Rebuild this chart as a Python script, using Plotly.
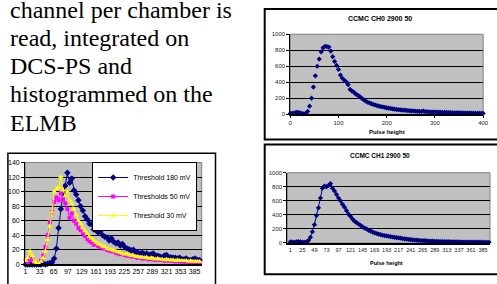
import plotly.graph_objects as go

W, H = 497, 284

# ---------------- data ----------------
text_lines = ["channel per chamber is", "read, integrated on", "DCS-PS and",
              "histogrammed on the", "ELMB"]

# left chart: threshold scan (bins 1,6,11,...,396)
thr180 = [0, 0, 0, 0, 0, 0, 0, 0, 1, 0, 1, 2, 3, 8, 22, 50, 76, 98, 108, 126,
          112, 118, 102, 96, 88, 80, 74, 66, 62, 56, 55, 48, 47, 44, 46, 40, 38, 37, 33, 36,
          31, 29, 30, 26, 28, 24, 22, 21, 19, 20, 17, 16, 15, 16, 14, 15, 13, 14, 15, 12,
          12, 11, 10, 12, 13, 10, 10, 9, 9, 8, 9, 7, 7, 8, 6, 6, 7, 8, 6, 6]
thr50 = [6, 3, 9, 6, 2, 1, 2, 5, 12, 24, 40, 58, 72, 86, 92, 88, 98, 90, 84, 76,
         64, 70, 60, 56, 50, 47, 43, 39, 35, 32, 30, 27, 28, 25, 24, 22, 22, 20, 19, 18,
         18, 16, 15, 14, 15, 13, 12, 12, 11, 11, 10, 9, 10, 8, 9, 8, 7, 8, 7, 6,
         7, 6, 6, 5, 6, 5, 5, 5, 4, 5, 4, 4, 4, 3, 4, 3, 3, 4, 3, 3]
thr30 = [5, 9, 18, 12, 4, 2, 1, 4, 9, 18, 34, 52, 72, 100, 104, 106, 120, 102, 94, 100,
         88, 84, 76, 68, 60, 56, 50, 46, 42, 38, 36, 33, 30, 28, 27, 25, 24, 22, 21, 20,
         19, 18, 17, 16, 15, 14, 15, 13, 12, 12, 11, 11, 10, 10, 9, 10, 8, 9, 8, 7,
         8, 7, 7, 6, 7, 6, 6, 6, 5, 6, 5, 5, 5, 5, 4, 5, 4, 4, 4, 4]
left_bins = [1 + 5 * i for i in range(len(thr180))]
left_ticks = [1, 33, 65, 97, 129, 161, 193, 225, 257, 289, 321, 353, 385]
series_names = ["Threshold 180 mV", "Thresholds 50 mV", "Threshold 30 mV"]

# CH0 (pulse height 0,4,...,400)
ch0 = [10, 12, 15, 22, 24, 18, 10, 5, 12, 35,
       100, 200, 340, 480, 600, 690, 780, 830, 850, 845,
       840, 790, 720, 660, 610, 560, 490, 450, 425, 405,
       370, 310, 290, 275, 250, 238, 220, 200, 182, 165,
       150, 142, 132, 122, 115, 108, 100, 96, 90, 86,
       80, 75, 72, 68, 63, 60, 58, 55, 52, 50,
       48, 45, 43, 42, 40, 38, 36, 35, 34, 40,
       33, 31, 30, 28, 28, 27, 25, 25, 24, 23,
       22, 22, 21, 20, 19, 18, 18, 17, 16, 16,
       15, 15, 14, 14, 13, 13, 12, 12, 12, 11, 10]
ch0_x = [4 * i for i in range(len(ch0))]

# CH1 (bins 1,5,...,397)
ch1 = [15, 12, 10, 15, 20, 15, 12, 10, 15, 35,
       80, 160, 260, 390, 500, 640, 780, 810, 800, 820,
       845, 780, 740, 690, 640, 600, 550, 510, 460, 410,
       380, 340, 310, 290, 270, 250, 230, 210, 200, 180,
       170, 155, 145, 135, 125, 118, 110, 105, 100, 95,
       90, 85, 80, 75, 72, 68, 62, 58, 55, 52,
       48, 45, 42, 40, 38, 35, 33, 32, 30, 28,
       26, 25, 24, 22, 22, 20, 20, 19, 18, 18,
       17, 16, 16, 15, 15, 14, 14, 13, 13, 13,
       12, 12, 12, 11, 11, 11, 10, 10, 10, 10]
ch1_x = [1 + 4 * i for i in range(len(ch1))]
ch1_ticks = [1, 25, 49, 73, 97, 121, 145, 169, 193, 217, 241, 265, 289, 313, 337, 361, 385]

titles = ["CCMC CH0 2900 50", "CCMC CH1 2900 50"]
xlabel = "Pulse height"

# ---------------- helpers ----------------
def px(x):
    return x / W


def py(y):
    return 1 - y / H


SANS = "Liberation Sans"
SERIF = "Liberation Serif"
NAVY = "#000080"

fig = go.Figure()

fig.add_trace(go.Scatter(x=left_bins, y=thr180, name=series_names[0], mode="lines+markers",
                         line=dict(color=NAVY, width=1),
                         marker=dict(symbol="diamond", size=5, color=NAVY),
                         xaxis="x", yaxis="y", cliponaxis=False))
fig.add_trace(go.Scatter(x=left_bins, y=thr50, name=series_names[1], mode="lines+markers",
                         line=dict(color="#FF00FF", width=1),
                         marker=dict(symbol="square", size=4, color="#FF00FF"),
                         xaxis="x", yaxis="y", cliponaxis=False))
fig.add_trace(go.Scatter(x=left_bins, y=thr30, name=series_names[2], mode="lines+markers",
                         line=dict(color="#FFFF00", width=1),
                         marker=dict(symbol="triangle-up", size=5, color="#FFFF00"),
                         xaxis="x", yaxis="y", cliponaxis=False))

fig.add_trace(go.Scatter(x=ch0_x, y=ch0, mode="markers", showlegend=False,
                         marker=dict(symbol="diamond", size=4, color=NAVY),
                         xaxis="x2", yaxis="y2", cliponaxis=False))
fig.add_trace(go.Scatter(x=ch1_x, y=ch1, mode="lines+markers", showlegend=False,
                         line=dict(color=NAVY, width=1),
                         marker=dict(symbol="diamond", size=4, color=NAVY),
                         xaxis="x3", yaxis="y3", cliponaxis=False))

yaxis_common = dict(showgrid=True, gridcolor="black", gridwidth=1, zeroline=False,
                    showline=True, linecolor="black", linewidth=1,
                    ticks="outside", ticklen=3, tickcolor="black")

fig.update_layout(
    width=W, height=H, autosize=False,
    margin=dict(l=0, r=0, t=0, b=0),
    paper_bgcolor="white", plot_bgcolor="#C0C0C0",
    showlegend=True,
    legend=dict(x=px(145), y=py(162), xanchor="center", yanchor="top",
                bgcolor="white", bordercolor="black", borderwidth=1,
                font=dict(family=SANS, size=7, color="black"),
                itemwidth=30, tracegroupgap=0),
    xaxis=dict(domain=[px(23.5), px(203)], range=[0, 401], anchor="y",
               tickmode="array", tickvals=left_ticks, ticks="",
               showline=True, linecolor="black", linewidth=1.5,
               showgrid=False, zeroline=False,
               tickfont=dict(family=SANS, size=7, color="black")),
    yaxis=dict(domain=[py(267), py(162.5)], range=[0, 140], dtick=20, anchor="x",
               tickfont=dict(family=SANS, size=7, color="black"), **yaxis_common),
    xaxis2=dict(domain=[px(293), px(489)], range=[0, 400], anchor="y2",
                tickmode="array", tickvals=[0, 100, 200, 300, 400], ticks="outside",
                ticklen=2, tickcolor="black",
                showline=True, linecolor="black", linewidth=2,
                showgrid=False, zeroline=False,
                tickfont=dict(family=SANS, size=6, color="#222")),
    yaxis2=dict(domain=[py(113), py(31)], range=[0, 1000], dtick=200, anchor="x2",
                tickfont=dict(family=SANS, size=6, color="#222"), **yaxis_common),
    xaxis3=dict(domain=[px(290), px(496)], range=[-5, 399], anchor="y3",
                tickmode="array", tickvals=ch1_ticks, ticks="",
                showline=True, linecolor="black", linewidth=2,
                showgrid=False, zeroline=False,
                tickfont=dict(family=SANS, size=5.5, color="#222")),
    yaxis3=dict(domain=[py(245), py(173)], range=[0, 1000], dtick=200, anchor="x3",
                tickfont=dict(family=SANS, size=6, color="#222"), **yaxis_common),
)

annotations = []
baselines = [14, 42.5, 71.5, 100.5, 129.5]
for t, b in zip(text_lines, baselines):
    annotations.append(dict(text=t, x=px(6), y=py(b - 8), xref="paper", yref="paper",
                            xanchor="left", yanchor="middle", showarrow=False,
                            font=dict(family=SERIF, size=24, color="black")))
annotations.append(dict(text="<b>" + titles[0] + "</b>", x=px(384), y=py(15), xref="paper",
                        yref="paper", showarrow=False, xanchor="center", yanchor="middle",
                        font=dict(family=SANS, size=7, color="black")))
annotations.append(dict(text="<b>" + titles[1] + "</b>", x=px(384), y=py(155), xref="paper",
                        yref="paper", showarrow=False, xanchor="center", yanchor="middle",
                        font=dict(family=SANS, size=6.5, color="black")))
annotations.append(dict(text="<b>" + xlabel + "</b>", x=px(391), y=py(131), xref="paper",
                        yref="paper", showarrow=False, xanchor="center", yanchor="middle",
                        font=dict(family=SANS, size=6, color="black")))
annotations.append(dict(text="<b>" + xlabel + "</b>", x=px(391), y=py(266), xref="paper",
                        yref="paper", showarrow=False, xanchor="center", yanchor="middle",
                        font=dict(family=SANS, size=5.5, color="black")))
fig.update_layout(annotations=annotations)

shapes = [
    # left chart frame
    dict(type="rect", xref="paper", yref="paper", x0=px(6), x1=px(217), y0=py(292), y1=py(153),
         line=dict(color="black", width=1.5)),
    # right chart frames
    dict(type="rect", xref="paper", yref="paper", x0=px(267), x1=px(505), y0=py(139), y1=py(5),
         line=dict(color="black", width=2)),
    dict(type="rect", xref="paper", yref="paper", x0=px(267), x1=px(505), y0=py(277), y1=py(144),
         line=dict(color="black", width=2)),
]
for xr, yr in [("x domain", "y domain"), ("x2 domain", "y2 domain"), ("x3 domain", "y3 domain")]:
    shapes.append(dict(type="rect", xref=xr, yref=yr, x0=0, x1=1, y0=0, y1=1,
                       line=dict(color="#808080", width=1), layer="below"))
fig.update_layout(shapes=shapes)

fig.write_html("out.html",
               config={"displayModeBar": False, "staticPlot": True},
               post_script="document.body.style.margin='0';document.body.style.overflow='hidden';")
